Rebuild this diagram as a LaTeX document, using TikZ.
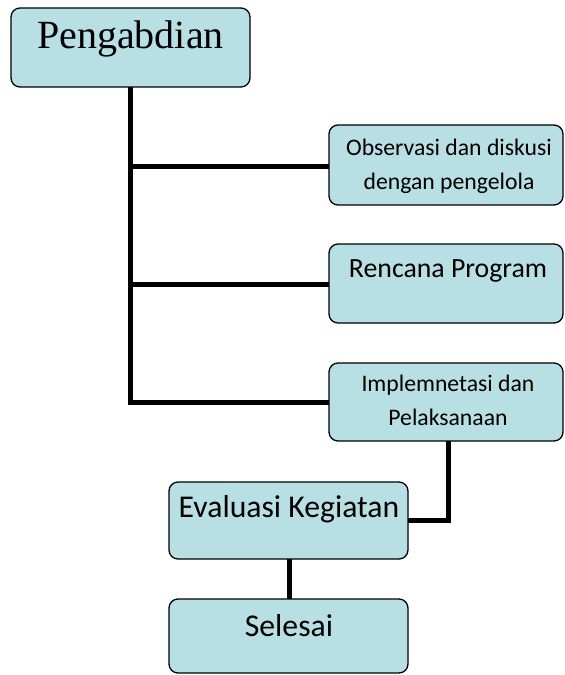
\documentclass[tikz,border=0pt]{standalone}
\usepackage{fontspec}
\setmainfont{Carlito}
\newfontfamily\timesfont{Liberation Serif}
\definecolor{boxfill}{RGB}{184,223,228}
\tikzset{
  box/.style={draw=black, line width=1.3pt, fill=boxfill, rounded corners=9pt, inner sep=0pt},
  conn/.style={line width=5pt, line cap=butt, line join=miter},
  lbl/.style={inner sep=0pt, anchor=base, align=center}
}
\begin{document}
\begin{tikzpicture}[x=1pt,y=-1pt]
\useasboundingbox (0,0) rectangle (565,675);
% boxes
\draw[box] (11,8) rectangle (250,87);
\coordinate (pengS) at (130.5,87);
\draw[box] (329,125) rectangle (563,205);
\coordinate (obsW) at (329,166);
\draw[box] (329,244) rectangle (563,323);
\coordinate (renW) at (329,284);
\draw[box] (329,363) rectangle (563,441);
\coordinate (impW) at (329,402);
\coordinate (impS) at (448,441);
\draw[box] (169,482) rectangle (408,559);
\coordinate (evaE) at (408,520);
\coordinate (evaS) at (289,559);
\draw[box] (169,599) rectangle (408,673);
\coordinate (selN) at (289,599);
% texts
\node[lbl, font=\timesfont\fontsize{40}{42}\selectfont] (tpeng) at (130.5,48) {Pengabdian};
\node[lbl, font=\fontsize{23.7}{34}\selectfont] (tobs1) at (449,155) {Observasi dan diskusi};
\node[lbl, font=\fontsize{23.7}{34}\selectfont] (tobs2) at (449,189) {dengan pengelola};
\node[lbl, font=\fontsize{27.8}{30}\selectfont] (tren) at (448,277) {Rencana Program};
\node[lbl, font=\fontsize{23.7}{34}\selectfont] (timp1) at (448,391) {Implemnetasi dan};
\node[lbl, font=\fontsize{23.7}{34}\selectfont] (timp2) at (448,425) {Pelaksanaan};
\node[lbl, font=\fontsize{31.7}{34}\selectfont] (teva) at (289,517) {Evaluasi Kegiatan};
\node[lbl, font=\fontsize{31.7}{34}\selectfont] (tsel) at (289,636) {Selesai};
% connectors
\coordinate (trunkEnd) at (130.5,402);
\coordinate (j1) at (130.5,166);
\coordinate (j2) at (130.5,284);
\draw[conn] (pengS) -- (trunkEnd) -- (impW);
\draw[conn] (j1) -- (obsW);
\draw[conn] (j2) -- (renW);
\draw[conn] (impS) |- (evaE);
\draw[conn] (evaS) -- (selN);
\end{tikzpicture}
\end{document}
